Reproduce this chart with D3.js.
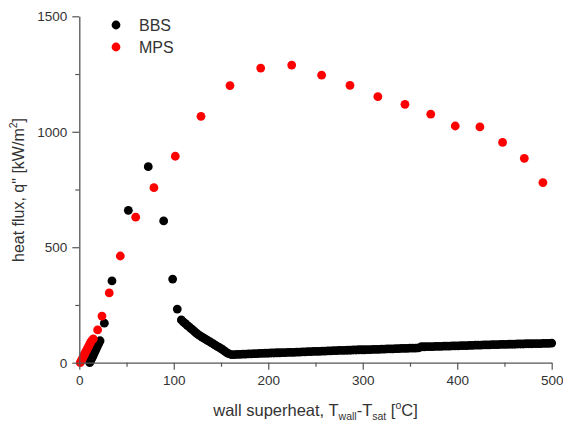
<!DOCTYPE html>
<html>
<head>
<meta charset="utf-8">
<script src="https://cdn.jsdelivr.net/npm/d3@7"></script>
<style>
html,body{margin:0;padding:0;background:#fff;}
svg{display:block;font-family:"Liberation Sans",Arial,sans-serif;}
</style>
</head>
<body>
<svg id="chart" width="563" height="425"></svg>
<script>
// ---- Data ----
const seriesNames = ["BBS", "MPS"];
const seriesColors = ["#000000", "#ff0000"];

// BBS: wall superheat [°C]
const bbsX = [11,12,13,14,15,16,17,18,19,20,21,22,26.5,34.6,51.9,73,89.3,98.8,103.7,
  108,110,112,114,116,118,120,122,124,126,128,130,132,134,136,138,140,142,144,146,148,150,152,154,156,158,
  161,164,167,170,173,176,179,182,185,188,191,194,197,200,203,206,209,212,215,218,221,224,227,230,233,236,239,
  242,245,248,251,254,257,260,263,266,269,272,275,278,281,284,287,290,293,296,299,302,305,308,311,314,317,320,
  323,326,329,332,335,338,341,344,347,350,353,356,359,362,365,368,371,374,377,380,383,386,389,392,395,398,401,
  404,407,410,413,416,419,422,425,428,431,434,437,440,443,446,449,452,455,458,461,464,467,470,473,476,479,482,
  485,488,491,494,497,500];
// BBS: heat flux [kW/m2]
const bbsY = [0,8,17,25,34,43,52,61,70,79,87,95,171,354,660,849,614,362,232,
  185,177,170,163,156,149,142,135,128,121,116,111,106,101,96,91,86,81,76,71,66,61,56,50,44,39,
  35,35,36,36,37,37,38,38,39,39,40,40,41,41,42,42,43,43,44,44,45,45,45,46,46,47,47,
  48,48,49,49,49,50,50,51,51,52,52,53,53,53,54,54,55,55,56,56,56,57,57,58,58,58,59,
  59,60,60,60,61,61,62,62,62,63,63,63,64,69,69,70,70,70,71,71,71,72,72,72,73,73,73,
  74,74,74,75,75,76,76,76,77,77,77,78,78,78,79,79,79,80,80,80,81,81,81,82,82,82,83,
  83,83,84,84,84,85];

// MPS
const mpsX = [1,2,3,4,5,6,7,8,9,10,11,12,13,14.8,19.4,24,31.7,43.4,59.7,79,101.6,128.8,159.5,192,224.8,256.5,286.5,316,344.7,372,397.9,424,448,471,490.7];
const mpsY = [0,8,16,24,32,40,48,56,64,72,80,88,95,103,142,202,302,462,630,758,894,1067,1200,1276,1289,1245,1201,1152,1119,1076,1025,1021,954,885,780];

// Axis ticks
const xTicks = [0,100,200,300,400,500];
const xMinor = [50,150,250,350,450];
const yTicks = [0,500,1000,1500];
const yMinor = [250,750,1250];

// ---- Drawing ----
const svg = d3.select("#chart");
const x = d3.scaleLinear().domain([0,500]).range([79.3,551.7]);
const y = d3.scaleLinear().domain([0,1500]).range([362.7,16.3]);

const axisColor = "#555";
const textColor = "#333";
const R = 4.4;

// points
const bbs = bbsX.map((v,i)=>({x:v,y:bbsY[i]}));
const mps = mpsX.map((v,i)=>({x:v,y:mpsY[i]}));

svg.append("g").selectAll("circle").data(bbs).join("circle")
  .attr("cx",d=>x(d.x)).attr("cy",d=>y(d.y)).attr("r",R).attr("fill",seriesColors[0]);
svg.append("g").selectAll("circle").data(mps).join("circle")
  .attr("cx",d=>x(d.x)).attr("cy",d=>y(d.y)).attr("r",R).attr("fill",seriesColors[1]);

// axes
function styleAxis(g){
  g.select(".domain").attr("stroke",axisColor).attr("stroke-width",1.3);
  g.selectAll(".tick line").attr("stroke",axisColor).attr("stroke-width",1.2);
  g.selectAll(".tick text").attr("fill",textColor).style("font-size","13.5px").style("font-family","'Liberation Sans',Arial,sans-serif");
}
const xAxis = svg.append("g").attr("transform",`translate(0,${y(0)})`)
  .call(d3.axisBottom(x).tickValues(xTicks).tickSize(7).tickSizeOuter(0).tickPadding(6).tickFormat(d3.format("d")));
styleAxis(xAxis);
const xAxisMinor = svg.append("g").attr("transform",`translate(0,${y(0)})`)
  .call(d3.axisBottom(x).tickValues(xMinor).tickSize(4).tickSizeOuter(0).tickFormat(""));
xAxisMinor.select(".domain").remove();
xAxisMinor.selectAll(".tick line").attr("stroke",axisColor).attr("stroke-width",1.2);

const yAxis = svg.append("g").attr("transform",`translate(${x(0)},0)`)
  .call(d3.axisLeft(y).tickValues(yTicks).tickSize(7).tickSizeOuter(0).tickPadding(5).tickFormat(d3.format("d")));
styleAxis(yAxis);
const yAxisMinor = svg.append("g").attr("transform",`translate(${x(0)},0)`)
  .call(d3.axisLeft(y).tickValues(yMinor).tickSize(4).tickSizeOuter(0).tickFormat(""));
yAxisMinor.select(".domain").remove();
yAxisMinor.selectAll(".tick line").attr("stroke",axisColor).attr("stroke-width",1.2);

// axis titles
const xt = svg.append("text").attr("x",315.5).attr("y",416).attr("text-anchor","middle")
  .attr("fill",textColor).style("font-size","16.5px");
xt.append("tspan").text("wall superheat, T");
xt.append("tspan").attr("dy",4).style("font-size","10.5px").text("wall");
xt.append("tspan").attr("dy",-4).text("-T");
xt.append("tspan").attr("dy",4).style("font-size","10.5px").text("sat");
xt.append("tspan").attr("dy",-4).text(" [");
xt.append("tspan").attr("dy",-7).style("font-size","10.5px").text("o");
xt.append("tspan").attr("dy",7).text("C]");

const yt = svg.append("text").attr("transform","translate(24,190) rotate(-90)").attr("text-anchor","middle")
  .attr("fill",textColor).style("font-size","16px");
yt.append("tspan").text("heat flux, q\" [kW/m");
yt.append("tspan").attr("dy",-7).style("font-size","10.5px").text("2");
yt.append("tspan").attr("dy",7).text("]");

// legend
const leg = svg.append("g");
[0,1].forEach(i=>{
  leg.append("circle").attr("cx",116).attr("cy",25+i*22).attr("r",R).attr("fill",seriesColors[i]);
  leg.append("text").attr("x",139).attr("y",25+i*22).attr("dy","0.36em").attr("fill",textColor)
    .style("font-size","16px").text(seriesNames[i]);
});
</script>
</body>
</html>
